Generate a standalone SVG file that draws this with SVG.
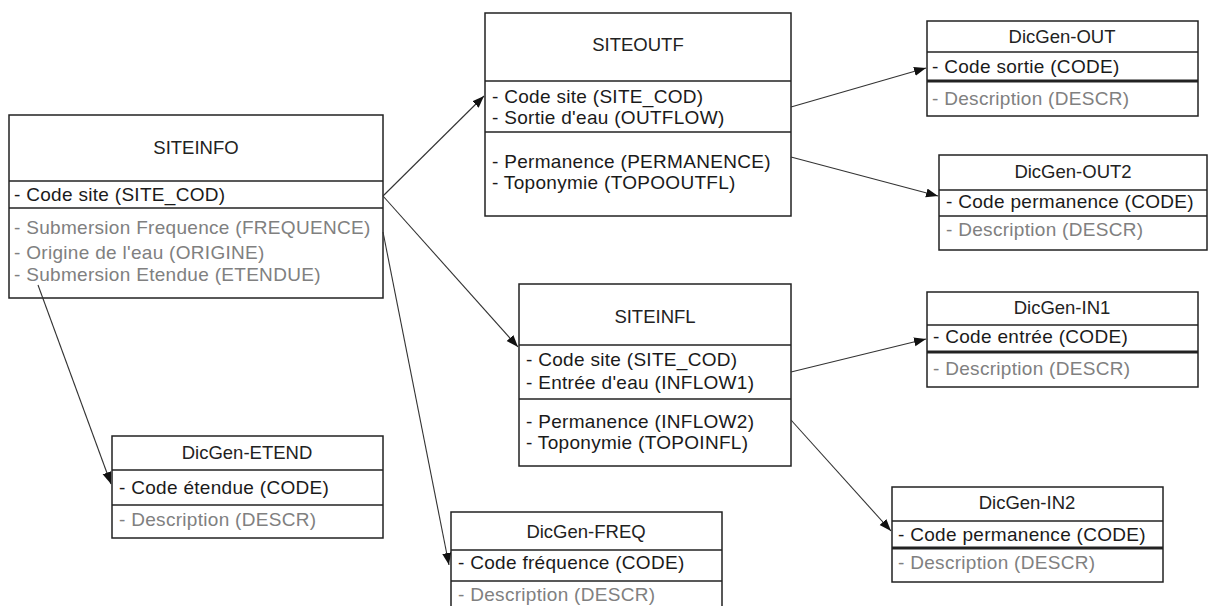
<svg xmlns="http://www.w3.org/2000/svg" width="1210" height="606" viewBox="0 0 1210 606">
<style>
.box{fill:#fff;stroke:#222;stroke-width:1.5}
.div{stroke:#222;stroke-width:1.5}
.thick{stroke:#222;stroke-width:3}
.t{font-family:"Liberation Sans",Arial,sans-serif;font-size:18.5px;fill:#222;text-anchor:middle}
.a{font-family:"Liberation Sans",Arial,sans-serif;font-size:19px;fill:#1a1a1a;letter-spacing:0.3px}
.g{font-family:"Liberation Sans",Arial,sans-serif;font-size:19px;fill:#808080;letter-spacing:0.3px}
.c{stroke:#333;stroke-width:1.1;fill:none;marker-end:url(#arr)}
</style>
<defs>
<marker id="arr" markerUnits="userSpaceOnUse" markerWidth="13" markerHeight="10" refX="12" refY="4.5" orient="auto">
<path d="M0,0 L12,4.5 L0,9 z" fill="#111"/>
</marker>
</defs>
<rect width="1210" height="606" fill="#fff"/>

<g id="SITEINFO">
<rect class="box" x="9" y="115" width="374" height="183"/>
<line class="div" x1="9" y1="181" x2="383" y2="181"/>
<line class="div" x1="9" y1="208" x2="383" y2="208"/>
<text class="t" x="196" y="154">SITEINFO</text>
<text class="a" x="14" y="201">- Code site (SITE_COD)</text>
<text class="g" x="14" y="234">- Submersion Frequence (FREQUENCE)</text>
<text class="g" x="14" y="259">- Origine de l'eau (ORIGINE)</text>
<text class="g" x="14" y="281">- Submersion Etendue (ETENDUE)</text>
</g>

<g id="SITEOUTF">
<rect class="box" x="485" y="13" width="306" height="203"/>
<line class="div" x1="485" y1="81" x2="791" y2="81"/>
<line class="div" x1="485" y1="132" x2="791" y2="132"/>
<text class="t" x="638" y="51">SITEOUTF</text>
<text class="a" x="492" y="103">- Code site (SITE_COD)</text>
<text class="a" x="492" y="124">- Sortie d'eau (OUTFLOW)</text>
<text class="a" x="492" y="168">- Permanence (PERMANENCE)</text>
<text class="a" x="492" y="189">- Toponymie (TOPOOUTFL)</text>
</g>

<g id="SITEINFL">
<rect class="box" x="519" y="284" width="272" height="182"/>
<line class="div" x1="519" y1="345" x2="791" y2="345"/>
<line class="div" x1="519" y1="399" x2="791" y2="399"/>
<text class="t" x="655" y="323">SITEINFL</text>
<text class="a" x="526" y="366">- Code site (SITE_COD)</text>
<text class="a" x="526" y="389">- Entrée d'eau (INFLOW1)</text>
<text class="a" x="526" y="428">- Permanence (INFLOW2)</text>
<text class="a" x="526" y="449">- Toponymie (TOPOINFL)</text>
</g>

<g id="DicGen-OUT">
<rect class="box" x="927" y="21" width="271" height="95"/>
<line class="div" x1="927" y1="52" x2="1198" y2="52"/>
<line class="thick" x1="927" y1="81" x2="1198" y2="81"/>
<text class="t" x="1062" y="43">DicGen-OUT</text>
<text class="a" x="932" y="73">- Code sortie (CODE)</text>
<text class="g" x="932" y="105">- Description (DESCR)</text>
</g>

<g id="DicGen-OUT2">
<rect class="box" x="939" y="155" width="268" height="95"/>
<line class="div" x1="939" y1="190" x2="1207" y2="190"/>
<line class="div" x1="939" y1="216" x2="1207" y2="216"/>
<text class="t" x="1073" y="178">DicGen-OUT2</text>
<text class="a" x="946" y="208">- Code permanence (CODE)</text>
<text class="g" x="946" y="236">- Description (DESCR)</text>
</g>

<g id="DicGen-IN1">
<rect class="box" x="927" y="292" width="271" height="95"/>
<line class="div" x1="927" y1="325" x2="1198" y2="325"/>
<line class="thick" x1="927" y1="352" x2="1198" y2="352"/>
<text class="t" x="1062" y="314">DicGen-IN1</text>
<text class="a" x="933" y="343">- Code entrée (CODE)</text>
<text class="g" x="933" y="375">- Description (DESCR)</text>
</g>

<g id="DicGen-IN2">
<rect class="box" x="892" y="487" width="271" height="95"/>
<line class="div" x1="892" y1="521" x2="1163" y2="521"/>
<line class="thick" x1="892" y1="548" x2="1163" y2="548"/>
<text class="t" x="1027" y="509">DicGen-IN2</text>
<text class="a" x="898" y="541">- Code permanence (CODE)</text>
<text class="g" x="898" y="569">- Description (DESCR)</text>
</g>

<g id="DicGen-ETEND">
<rect class="box" x="112" y="436" width="271" height="102"/>
<line class="div" x1="112" y1="470" x2="383" y2="470"/>
<line class="div" x1="112" y1="505" x2="383" y2="505"/>
<text class="t" x="247" y="459">DicGen-ETEND</text>
<text class="a" x="119" y="494">- Code étendue (CODE)</text>
<text class="g" x="119" y="526">- Description (DESCR)</text>
</g>

<g id="DicGen-FREQ">
<path class="box" d="M451,608 L451,512 L722,512 L722,608"/>
<line class="div" x1="451" y1="550" x2="722" y2="550"/>
<line class="div" x1="451" y1="581" x2="722" y2="581"/>
<text class="t" x="586" y="538">DicGen-FREQ</text>
<text class="a" x="458" y="569">- Code fréquence (CODE)</text>
<text class="g" x="458" y="601">- Description (DESCR)</text>
</g>

<g id="connectors">
<line class="c" x1="383" y1="196" x2="484" y2="96"/>
<line class="c" x1="383" y1="196" x2="518" y2="347"/>
<line class="c" x1="383" y1="232" x2="449" y2="565"/>
<line class="c" x1="38" y1="285" x2="111" y2="484"/>
<line class="c" x1="791" y1="107" x2="926" y2="68"/>
<line class="c" x1="791" y1="157" x2="938" y2="196"/>
<line class="c" x1="791" y1="372" x2="926" y2="339"/>
<line class="c" x1="791" y1="420" x2="891" y2="531"/>
</g>
</svg>
